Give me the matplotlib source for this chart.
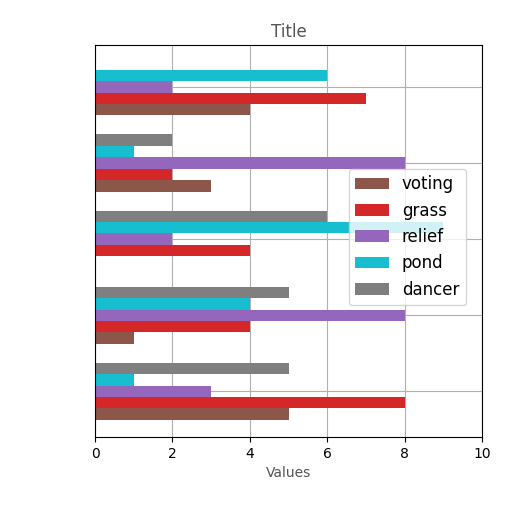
import matplotlib.pyplot as plt
import numpy as np

series = ["voting", "grass", "relief", "pond", "dancer"]
colors = ["#8c564b", "#d62728", "#9467bd", "#17becf", "#7f7f7f"]
values = {
    "voting": [5, 1, 0, 3, 4],
    "grass": [8, 4, 4, 2, 7],
    "relief": [3, 8, 2, 8, 2],
    "pond": [1, 4, 9, 1, 6],
    "dancer": [5, 5, 6, 2, 0],
}

fig = plt.figure(figsize=(5.12, 5.12), dpi=100)
ax = fig.add_axes([95 / 512, 75 / 512, 387 / 512, 392 / 512])
y = np.arange(5)
h = 0.15
for i, (name, c) in enumerate(zip(series, colors)):
    ax.barh(y + (i - 2) * h, values[name], height=h, color=c, label=name)
ax.set_yticks(y)
ax.set_yticklabels([""] * 5)
ax.tick_params(axis="y", length=0)
ax.set_xlim(0, 10)
ax.set_ylim(-0.6, 4.55)
ax.grid(True, color="#b0b0b0")
ax.set_axisbelow(True)
ax.set_title("Title", color="#555555")
ax.set_xlabel("Values", color="#555555")
ax.legend(loc="center right", bbox_to_anchor=(0.98, 0.51), fontsize=12)
fig.savefig("out.png", dpi=100)
